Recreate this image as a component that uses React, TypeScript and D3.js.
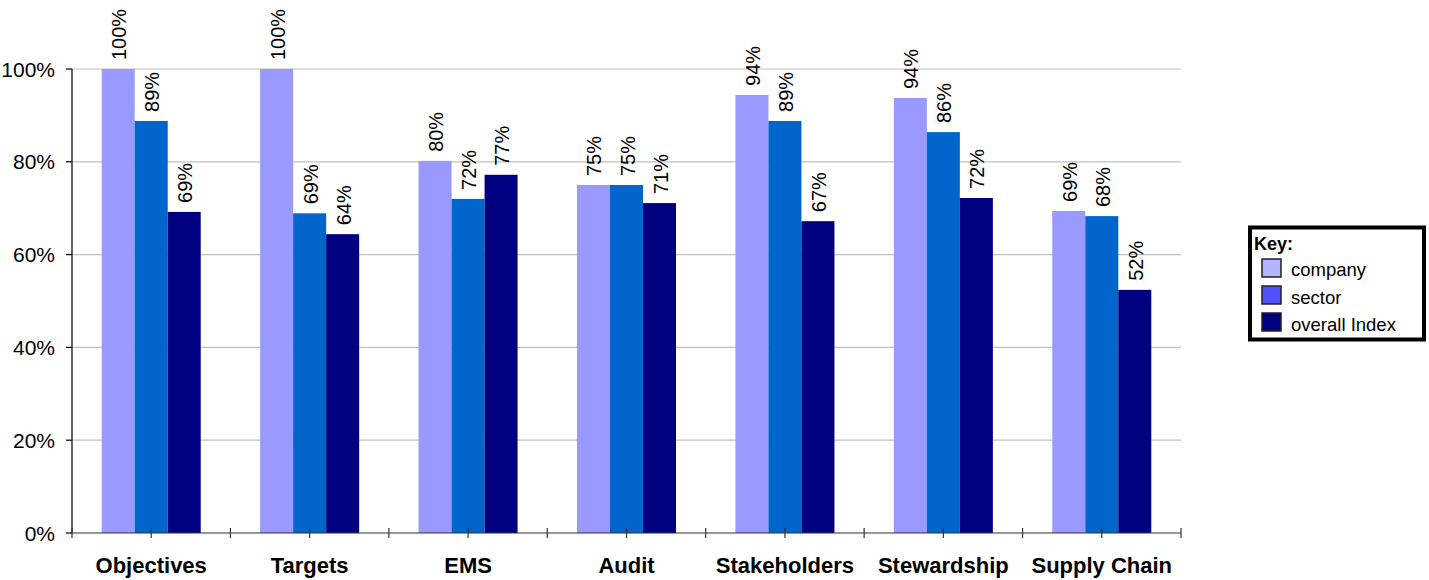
import React from "react";
import * as d3 from "d3";

const categories = ["Objectives", "Targets", "EMS", "Audit", "Stakeholders", "Stewardship", "Supply Chain"];
const seriesNames = ["company", "sector", "overall Index"];
const company = [1.0, 1.0, 0.802, 0.75, 0.944, 0.9375, 0.694];
const sector = [0.888, 0.689, 0.72, 0.75, 0.888, 0.864, 0.683];
const overall = [0.692, 0.644, 0.772, 0.711, 0.672, 0.722, 0.524];
const yTicks = [0, 0.2, 0.4, 0.6, 0.8, 1.0];

const barColors = ["#9999ff", "#0066cc", "#000080"];
const keyColors = ["#b3b3ff", "#5050ff", "#000080"];

const W = 1429;
const H = 580;
const left = 72;
const right = 1181;
const top = 69;
const bottom = 533;

const App: React.FC = () => {
  const series = [company, sector, overall];
  const x = d3.scaleBand<string>().domain(categories).range([left, right]).padding(0);
  const xi = d3
    .scaleBand<number>()
    .domain([0, 1, 2])
    .range([0, x.bandwidth()])
    .paddingInner(0)
    .paddingOuter(0.9);
  const y = d3.scaleLinear().domain([0, 1]).range([bottom, top]);
  const fmt = d3.format(".0%");
  const font = "Liberation Sans, Arial, sans-serif";

  // ticks at both band edges and band centres
  const xTickPos: number[] = [];
  categories.forEach((c) => {
    xTickPos.push(x(c)!);
    xTickPos.push(x(c)! + x.bandwidth() / 2);
  });
  xTickPos.push(right);

  return (
    <svg
      width={W}
      height={H}
      style={{ position: "absolute", left: 0, top: 0, background: "#fff" }}
      fontFamily={font}
    >
      {/* gridlines */}
      {yTicks.slice(1).map((t) => (
        <line key={t} x1={left} x2={right} y1={y(t)} y2={y(t)} stroke="#c0c0c0" strokeWidth={1.2} />
      ))}

      {/* bars */}
      {categories.map((c, ci) =>
        series.map((s, si) => (
          <rect
            key={c + si}
            x={x(c)! + xi(si)!}
            y={y(s[ci])}
            width={xi.bandwidth()}
            height={bottom - y(s[ci])}
            fill={barColors[si]}
          />
        ))
      )}

      {/* data labels */}
      {categories.map((c, ci) =>
        series.map((s, si) => {
          const cx = x(c)! + xi(si)! + xi.bandwidth() / 2;
          const cy = y(s[ci]) - 9;
          return (
            <text
              key={"l" + c + si}
              transform={`translate(${cx + 1},${cy}) rotate(-90)`}
              dominantBaseline="central"
              fontSize={20}
              fill="#000"
            >
              {fmt(s[ci])}
            </text>
          );
        })
      )}

      {/* y axis */}
      <line x1={left} x2={left} y1={top} y2={bottom} stroke="#000" strokeWidth={1.2} />
      {yTicks.map((t) => (
        <g key={"yt" + t}>
          <line x1={left - 6} x2={left} y1={y(t)} y2={y(t)} stroke="#000" strokeWidth={1.2} />
          <text x={55} y={y(t)} dy="0.36em" textAnchor="end" fontSize={21}>
            {fmt(t)}
          </text>
        </g>
      ))}

      {/* x axis */}
      <line x1={left} x2={right} y1={bottom} y2={bottom} stroke="#333" strokeWidth={1.2} />
      {xTickPos.map((p, i) => (
        <line key={"xt" + i} x1={p} x2={p} y1={bottom - 5} y2={bottom + 5} stroke="#333" strokeWidth={1.2} />
      ))}
      {categories.map((c) => (
        <text
          key={"xl" + c}
          x={x(c)! + x.bandwidth() / 2}
          y={573}
          textAnchor="middle"
          fontSize={22}
          fontWeight="bold"
        >
          {c}
        </text>
      ))}

      {/* key */}
      <rect x={1250} y={227.5} width={174} height={112} fill="#fff" stroke="#000" strokeWidth={4} />
      <text x={1254} y={250} fontSize={18} fontWeight="bold">
        Key:
      </text>
      {seriesNames.map((n, i) => (
        <g key={"k" + n}>
          <rect
            x={1262}
            y={259 + i * 27}
            width={19}
            height={18}
            fill={keyColors[i]}
            stroke="#222"
            strokeWidth={1.5}
          />
          <text x={1291} y={276 + i * 27.5} fontSize={18.5}>
            {n}
          </text>
        </g>
      ))}
    </svg>
  );
};

export default App;
